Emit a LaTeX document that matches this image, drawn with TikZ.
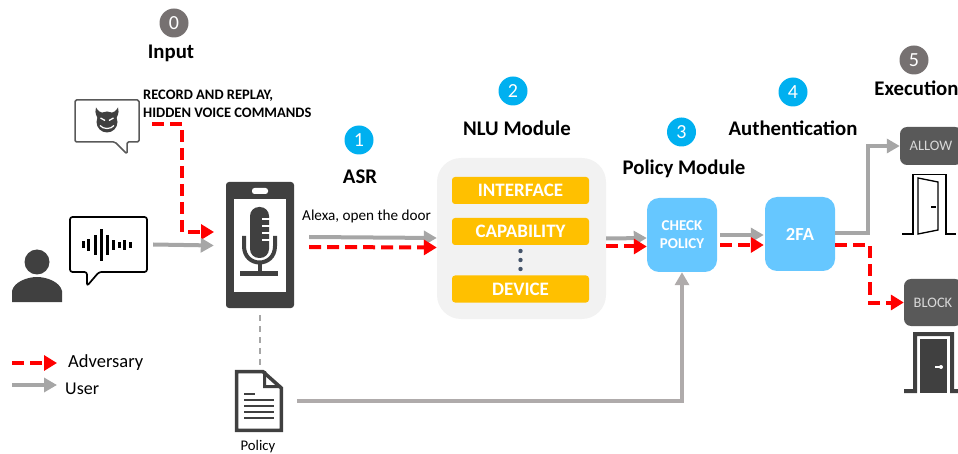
\documentclass[tikz,border=0pt]{standalone}
\usepackage{fontspec}
\setmainfont{Carlito}
\usetikzlibrary{arrows.meta,calc}
\definecolor{arrowgray}{HTML}{A6A6A6}
\definecolor{policygray}{HTML}{AFABAB}
\definecolor{iconDark}{HTML}{404040}
\definecolor{stepCyan}{HTML}{00B0F0}
\definecolor{stepGray}{HTML}{767171}
\definecolor{boxBlue}{HTML}{66C7FF}
\definecolor{barOrange}{HTML}{FFC000}
\definecolor{doorBox}{HTML}{595959}
\definecolor{panelGray}{HTML}{F2F2F2}
\definecolor{dotBlue}{HTML}{44546A}
\tikzset{
  x=1pt,y=-1pt,
  badge/.style={circle,minimum size=#1,inner sep=0pt,text=white,font=\fontsize{20}{20}\selectfont},
  cyanbadge/.style={badge=29pt,fill=stepCyan},
  graybadge/.style={badge=29pt,fill=stepGray},
  heading/.style={inner sep=0pt,font=\fontsize{20.8}{22}\selectfont\bfseries,text=black},
  smalltext/.style={inner sep=0pt,text=black,font=\fontsize{15.2}{17}\selectfont},
  orangebar/.style={rectangle,rounded corners=3pt,fill=barOrange,text=white,minimum width=137pt,minimum height=27pt,inner sep=0pt,font=\fontsize{19}{20}\selectfont\bfseries},
  bluebox/.style={rectangle,rounded corners=12pt,fill=boxBlue,text=white,minimum width=70pt,minimum height=74pt,inner sep=0pt,align=center},
  doorlabel/.style={rectangle,rounded corners=7pt,fill=doorBox,text=white!85!black,inner sep=0pt,font=\fontsize{14.5}{16}\selectfont},
  userflow/.style={draw=arrowgray,line width=4pt,-{Triangle[length=13pt,width=14pt]},line join=miter},
  attackflow/.style={draw=red,line width=4pt,dash pattern=on 12pt off 6pt,-{Triangle[length=13pt,width=15pt]},line join=miter},
}
\begin{document}
\begin{tikzpicture}
\useasboundingbox (0,0) rectangle (958,454);
% badges and headings
\node[graybadge] (b0) at (174,23) {0};
\node[heading] (h0) at (171,53.5) {Input};
\node[cyanbadge] (b1) at (359,140) {1};
\node[heading] (h1) at (360,176.5) {ASR};
\node[cyanbadge] (b2) at (513,91) {2};
\node[heading] (h2) at (517,128) {NLU Module};
\node[cyanbadge] (b3) at (681.5,132) {3};
\node[heading] (h3) at (684,169) {Policy Module};
\node[cyanbadge] (b4) at (793,92) {4};
\node[heading] (h4) at (793,128) {Authentication};
\node[graybadge] (b5) at (914,60) {5};
\node[heading] (h5) at (916.5,88) {Execution};
% attack text
\node[inner sep=0pt,anchor=west,align=left,font=\fontsize{14.5}{18}\selectfont\bfseries] (attacktext) at (143,103.5) {RECORD AND REPLAY,\\HIDDEN VOICE COMMANDS};
% devil bubble
\draw[draw=doorBox,line width=1.5pt,line join=round,rounded corners=1.5pt,fill=white]
  (75,100) -- (139,100) -- (139,142) -- (127,142) -- (127,154) -- (115,142) -- (75,142) -- cycle;
\fill[iconDark] (107,122) circle (10.5pt);
\fill[iconDark] (97.5,118) .. controls (95,113) and (95,110) .. (96,107.5) .. controls (98,111) and (100,112.5) .. (103,113) -- cycle;
\fill[iconDark] (116.5,118) .. controls (119,113) and (119,110) .. (118,107.5) .. controls (116,111) and (114,112.5) .. (111,113) -- cycle;
\draw[white,line width=1.3pt] (100.5,118) -- (105,120.5);
\draw[white,line width=1.3pt] (113.5,118) -- (109,120.5);
\draw[white,line width=1.2pt] (100,125.5) .. controls (103,129.5) and (111,129.5) .. (114,125.5);
% person
\fill[iconDark] (37,262) circle (12.5pt);
\fill[iconDark] (12,302) -- (12,291) .. controls (14,282) and (27,277) .. (37,277) .. controls (47,277) and (60,282) .. (62,291) -- (62,302) -- cycle;
% voice bubble
\node[minimum width=77pt,minimum height=55pt,inner sep=0pt] (voice) at (108.5,244.5) {};
\draw[black,line width=1.7pt,line join=round,rounded corners=2.5pt]
  (70,217) -- (147,217) -- (147,272) -- (99,272) -- (87,286) -- (87,272) -- (70,272) -- cycle;
\foreach \wx/\wh in {83/3.5,88/6,95/10,101/16,107/10,113/5,119/3,124/5,130/3}
  \fill[black] (\wx-1.5,245-\wh) rectangle (\wx+1.5,245+\wh);
% phone
\node[rectangle,rounded corners=3pt,fill=iconDark,minimum width=68pt,minimum height=126pt,inner sep=0pt] (phone) at (260,245) {};
\fill[white] (234,199) rectangle (286,292);
\fill[white,rounded corners=2.5pt] (252,188) rectangle (268,194);
\fill[iconDark,rounded corners=9pt] (250,207) rectangle (269,258);
\foreach \ny in {219,226,233,240} \fill[white] (262,\ny-1) rectangle (270,\ny+1);
\draw[iconDark,line width=4pt] (244,236) -- (244,246) .. controls (244,268) and (275,268) .. (275,246) -- (275,236);
\draw[iconDark,line width=4pt] (259.5,264) -- (259.5,274);
\fill[iconDark] (240,271.5) rectangle (278,276);
% policy document
\node[minimum width=48pt,minimum height=62pt,inner sep=0pt] (doc) at (259,401) {};
\draw[iconDark,line width=3.5pt,line join=miter,fill=white] (236.7,371.7) -- (263,371.7) -- (281.3,388) -- (281.3,430.3) -- (236.7,430.3) -- cycle;
\fill[iconDark] (263,371) -- (263,388) -- (281,388) -- (281,385) -- (266,385) -- (266,371) -- cycle;
\fill[iconDark] (244,392.5) rectangle (255,395);
\foreach \ly in {400,406,412,418} \fill[iconDark] (244,\ly-1.3) rectangle (274,\ly+1.3);
\node[smalltext,font=\fontsize{14.7}{16}\selectfont] (policylabel) at (258,446.5) {Policy};
% NLU
\node[rectangle,rounded corners=24pt,fill=panelGray,minimum width=169pt,minimum height=161pt,inner sep=0pt] (nlu) at (521.5,238.5) {};
\node[orangebar] (iface) at (520.5,190.5) {INTERFACE};
\node[orangebar] (capab) at (520.5,231.5) {CAPABILITY};
\node[orangebar] (device) at (520.5,289) {DEVICE};
\foreach \dy in {251,260,269} \fill[dotBlue] (520.5,\dy) circle (2.2pt);
% Blue boxes
\node[bluebox,font=\fontsize{15}{18}\selectfont\bfseries] (check) at (682,235) {CHECK\\POLICY};
\node[bluebox,font=\fontsize{18.5}{20}\selectfont\bfseries] (twofa) at (800,234) {2FA};
% door labels
\node[doorlabel,minimum width=62pt,minimum height=38pt] (allow) at (931,146) {ALLOW};
\node[doorlabel,minimum width=58pt,minimum height=47pt] (block) at (933,302.5) {BLOCK};
% open door
\draw[black,line width=1.3pt,line join=miter] (902,234) -- (913,234) -- (913,174.5) -- (946,174.5) -- (946,234) -- (956,234);
\draw[black,line width=1.3pt,line join=miter] (918,178) -- (938,182) -- (938,230) -- (918,234) -- cycle;
\draw[black,line width=1.6pt] (931,207) -- (936,207);
% closed door
\fill[iconDark] (904,393) -- (904,389) -- (913,389) -- (913,332) -- (954,332) -- (954,389) -- (958,389) -- (958,393) -- (950,393) -- (950,336) -- (917,336) -- (917,393) -- cycle;
\fill[iconDark] (920,339) rectangle (947,393);
\draw[white,line width=1.5pt] (935,367) -- (941,367);
\fill[white] (941,367) circle (2pt);
% free ends
\coordinate (attackstart) at (152,124);
\coordinate (micin) at (214,232);
\coordinate (legendAa) at (12,363);
\coordinate (legendAb) at (57,363);
\coordinate (legendUa) at (12,385);
\coordinate (legendUb) at (57,385);
% connectors
\draw[attackflow] (attackstart) -| ($(micin)+(-32,0)$) -- (micin);
\draw[userflow] ($(voice.east)+(6,0)$) -- ($(phone.west)+(-12,0.5)$);
\draw[userflow] ($(phone.east)+(15,-8)$) -- ($(nlu.west)+(0,-0.5)$);
\draw[attackflow] ($(phone.east)+(15,2)$) -- ($(nlu.west)+(0,9)$);
\draw[userflow] ($(nlu.east)+(0,0)$) -- ($(check.west)+(0,3)$);
\draw[attackflow] ($(nlu.east)+(0,8)$) -- ($(check.west)+(0,11.5)$);
\draw[userflow] ($(check.east)+(3,0)$) -- ($(twofa.west)+(-1,1)$);
\draw[attackflow] ($(check.east)+(3,10)$) -- ($(twofa.west)+(-1,11)$);
\draw[userflow] ($(twofa.east)+(0,-1)$) -- ($(twofa.east)+(33,-1)$) |- (allow.west);
\draw[attackflow] ($(twofa.east)+(0,11.5)$) -- ($(twofa.east)+(35,11.5)$) |- (block.west);
\draw[userflow,draw=policygray] ($(doc.east)+(14,0)$) -| (check.south);
\draw[arrowgray,line width=2pt,dash pattern=on 6pt off 5pt] ($(phone.south)+(0,7)$) -- ($(doc.north)+(1,-2)$);
% legend
\draw[attackflow] (legendAa) -- (legendAb);
\draw[userflow] (legendUa) -- (legendUb);
\node[smalltext,anchor=west,font=\fontsize{18.5}{20}\selectfont] (adv) at (68,362.5) {Adversary};
\node[smalltext,anchor=west,font=\fontsize{18}{20}\selectfont] (usr) at (65,389) {User};
% alexa label
\node[smalltext,anchor=west] (alexa) at (302,216) {Alexa, open the door};
\end{tikzpicture}
\end{document}
